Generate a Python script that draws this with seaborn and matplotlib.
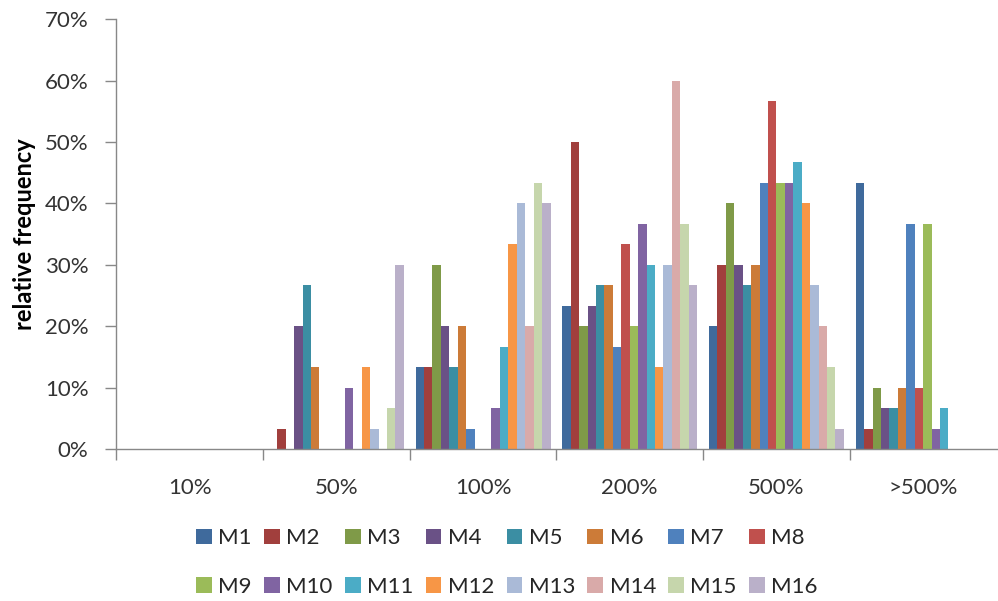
import matplotlib
matplotlib.use("Agg")
import matplotlib.pyplot as plt
from matplotlib.patches import Patch
from matplotlib.ticker import FixedLocator, PercentFormatter
import pandas as pd
import seaborn as sns

categories = ["10%", "50%", "100%", "200%", "500%", ">500%"]
models = [f"M{i}" for i in range(1, 17)]

# relative frequency (%) per model, one value per category
M1 = [0, 0, 13.33, 23.33, 20.0, 43.33]
M2 = [0, 3.33, 13.33, 50.0, 30.0, 3.33]
M3 = [0, 0, 30.0, 20.0, 40.0, 10.0]
M4 = [0, 20.0, 20.0, 23.33, 30.0, 6.67]
M5 = [0, 26.67, 13.33, 26.67, 26.67, 6.67]
M6 = [0, 13.33, 20.0, 26.67, 30.0, 10.0]
M7 = [0, 0, 3.33, 16.67, 43.33, 36.67]
M8 = [0, 0, 0, 33.33, 56.67, 10.0]
M9 = [0, 0, 0, 20.0, 43.33, 36.67]
M10 = [0, 10.0, 6.67, 36.67, 43.33, 3.33]
M11 = [0, 0, 16.67, 30.0, 46.67, 6.67]
M12 = [0, 13.33, 33.33, 13.33, 40.0, 0]
M13 = [0, 3.33, 40.0, 30.0, 26.67, 0]
M14 = [0, 0, 20.0, 60.0, 20.0, 0]
M15 = [0, 6.67, 43.33, 36.67, 13.33, 0]
M16 = [0, 30.0, 40.0, 26.67, 3.33, 0]
series = [M1, M2, M3, M4, M5, M6, M7, M8, M9, M10, M11, M12, M13, M14, M15, M16]

colors = [
    "#3F6A9C", "#A13F3D", "#7F9A48", "#6A5186", "#3B8EA3", "#CC7B38",
    "#4F81BD", "#C0504D", "#9BBB59", "#8064A2", "#4BACC6", "#F79646",
    "#AABAD7", "#D9AAA9", "#C6D6AC", "#BAB0C9",
]

df = pd.DataFrame(
    [
        {"category": c, "model": m, "value": v}
        for m, vals in zip(models, series)
        for c, v in zip(categories, vals)
    ]
)

sns.set_theme(style="white")
plt.rcParams["font.family"] = ["Lato", "DejaVu Sans"]

fig = plt.figure(figsize=(9.98, 6.01), dpi=100)
ax = fig.add_axes([0.1165, 0.253, 0.882, 0.715])

sns.barplot(
    data=df, x="category", y="value", hue="model",
    order=categories, hue_order=models, palette=colors,
    saturation=1, width=0.92, gap=0, linewidth=0, ax=ax, legend=False,
)

ax.set_ylim(0, 70)
ax.set_xlim(-0.5, 5.5)
ax.yaxis.set_major_locator(FixedLocator(range(0, 71, 10)))
ax.yaxis.set_major_formatter(PercentFormatter(decimals=0))
ax.set_xlabel("")
ax.set_ylabel("relative frequency", fontsize=17, fontweight="bold", color="black", labelpad=6)

grey = "#888888"
for side in ["top", "right"]:
    ax.spines[side].set_visible(False)
for side in ["left", "bottom"]:
    ax.spines[side].set_color(grey)
    ax.spines[side].set_linewidth(1.0)

ax.tick_params(axis="y", which="major", length=8, width=1, color=grey,
               labelsize=16, labelcolor="#333333", pad=12, left=True)
ax.tick_params(axis="x", which="major", length=0, labelsize=16,
               labelcolor="#333333", pad=21)
ax.xaxis.set_minor_locator(FixedLocator([-0.5, 0.5, 1.5, 2.5, 3.5, 4.5]))
ax.tick_params(axis="x", which="minor", length=8, width=1, color=grey, bottom=True)

# legend fills column-wise, so interleave to get M1..M8 on the first row
order = [i + 8 * r for i in range(8) for r in range(2)]
handles = [Patch(facecolor=colors[i], edgecolor="none") for i in order]
labels = [models[i] for i in order]
fig.legend(
    handles, labels, loc="center", bbox_to_anchor=(0.508, 0.064), ncol=8,
    frameon=False, fontsize=16, handlelength=0.7, handleheight=0.7,
    handletextpad=0.3, columnspacing=0.55, labelspacing=1.3,
)

fig.savefig("out.png", dpi=100)
